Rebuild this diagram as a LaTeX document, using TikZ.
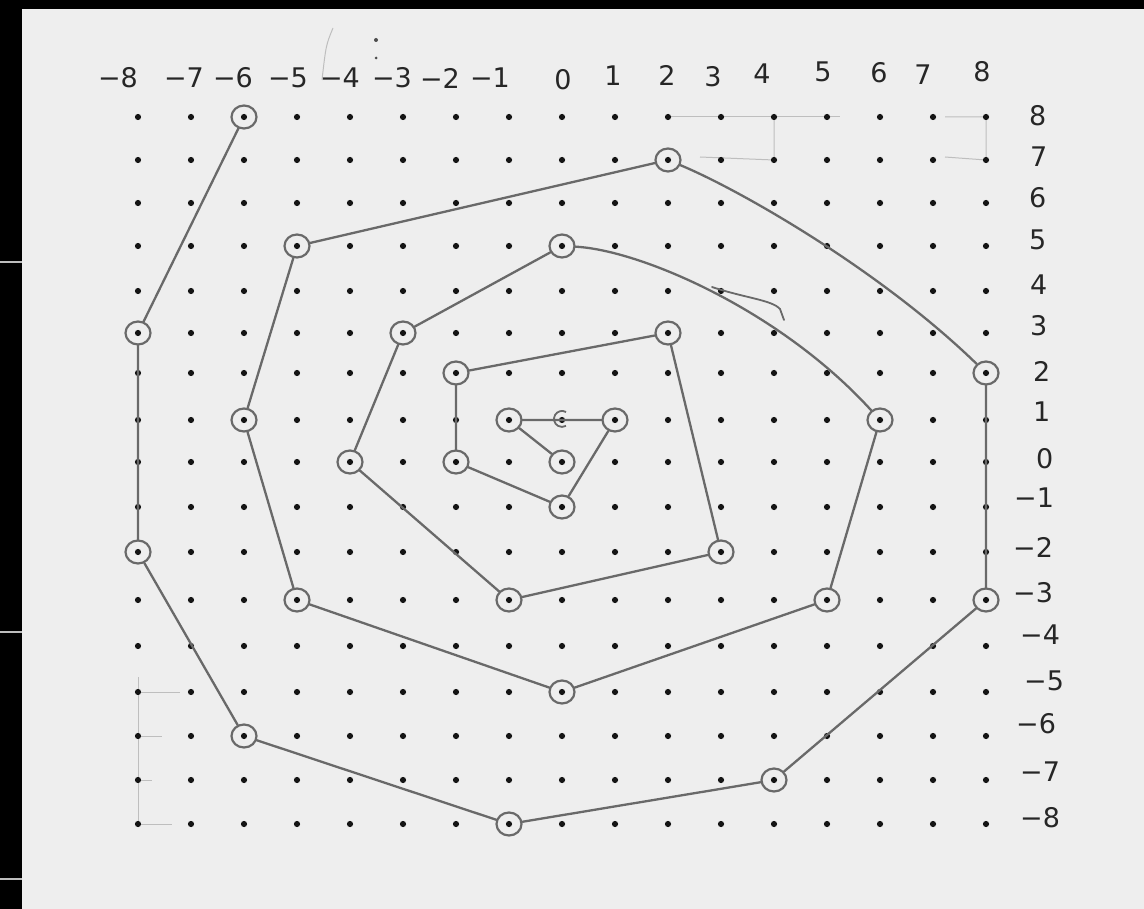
\documentclass[tikz,border=0pt]{standalone}
\usepackage{fontspec}
\setmainfont{DejaVu Sans}
\usetikzlibrary{shapes.geometric}
\definecolor{paper}{RGB}{238,238,238}
\definecolor{pencil}{RGB}{105,105,105}
\definecolor{faint}{RGB}{190,190,190}
\tikzset{
  vtx/.style={ellipse,draw=pencil,line width=2.2pt,minimum width=25pt,minimum height=23pt,inner sep=0pt},
  pline/.style={draw=pencil,line width=2.3pt,line cap=round,line join=round},
  fline/.style={draw=faint,line width=1pt},
  lab/.style={font=\fontsize{27}{29}\selectfont,text=black!85,inner sep=0pt},
  griddot/.style={fill=black!92}
}
\begin{document}
\begin{tikzpicture}[x=1pt,y=-1pt]
\useasboundingbox (0,0) rectangle (1144,909);
\fill[paper] (0,0) rectangle (1144,909);
\fill[black] (0,0) rectangle (1144,9);
\fill[black] (0,0) rectangle (22,909);
\foreach \yy in {262,632,879} \draw[faint,line width=1.6pt] (0,\yy) -- (22,\yy);
% grid coordinates
\foreach \r/\y in {8/117,7/160,6/203,5/246,4/291,3/333,2/373,1/420,0/462,-1/507,-2/552,-3/600,-4/646,-5/692,-6/736,-7/780,-8/824}
  \foreach \c in {-8,...,8}
    \coordinate (g\c x\r) at ({562+53*\c},\y);
% faint pencil marks
\draw[fline] (g2x8) -- (840,117);
\draw[fline] (945,117) -- (g8x8) -- (g8x7) -- (945,157);
\draw[fline] (g4x8) -- (g4x7) -- (700,157);
\draw[fline] (138,677) -- (g-8x-8);
\draw[fline] (g-8x-5) -- (180,692);
\draw[fline] (g-8x-6) -- (162,736);
\draw[fline] (g-8x-7) -- (152,780);
\draw[fline] (g-8x-8) -- (172,824);
\draw[fline] (333,28) .. controls (326,45) .. (322,80);
\fill[black!70] (376,40) circle (2);
\fill[black!70] (376,58) circle (1.5);
% dots
\foreach \r in {-8,...,8}
  \foreach \c in {-8,...,8}
    \fill[griddot] (g\c x\r) circle (3.1);
% spiral vertices
\foreach \n/\c/\r in {1/0/0,2/-1/1,3/1/1,4/0/-1,5/-2/0,6/-2/2,7/2/3,8/3/-2,9/-1/-3,10/-4/0,11/-3/3,12/0/5,13/6/1,14/5/-3,15/0/-5,16/-5/-3,17/-6/1,18/-5/5,19/2/7,20/8/2,21/8/-3,22/4/-7,23/-1/-8,24/-6/-6,25/-8/-2,26/-8/3,27/-6/8}
  \node[vtx] (v\n) at (g\c x\r) {};
\draw[pline] (v1) -- (v2) -- (v3) -- (v4) -- (v5) -- (v6) -- (v7) -- (v8) -- (v9)
  -- (v10) -- (v11) -- (v12) .. controls (640,250) and (780,310) .. (v13) -- (v14)
  -- (v15) -- (v16) -- (v17) -- (v18)
  -- (v19) .. controls (740,190) and (880,270) .. (v20) -- (v21) -- (v22) -- (v23)
  -- (v24) -- (v25) -- (v26) -- (v27);
% small extra pencil strokes
\draw[pencil,line width=1.8pt] (566,412) arc (-60:-300:8);
\draw[pencil,line width=1.8pt,line cap=round] (712,287) .. controls (745,298) and (772,300) .. (780,309) -- (784,320);
% top labels
\foreach \c/\x/\y/\t in {-8/118/78/−8,-7/184/78/−7,-6/233/78/−6,-5/288/78/−5,-4/340/78/−4,-3/392/78/−3,-2/440/78/−2,-1/490/78/−1,0/563/80/0,1/613/76/1,2/667/75/2,3/713/77/3,4/762/74/4,5/823/72/5,6/879/73/6,7/923/75/7,8/982/72/8}
  \node[lab] (top\c) at (\x,\y) {\t};
% right labels
\foreach \r/\x/\y/\t in {8/1029/116/8,7/1030/157/7,6/1029/198/6,5/1029/240/5,4/1030/285/4,3/1030/326/3,2/1033/371/2,1/1033/412/1,0/1036/459/0,-1/1014/498/−1,-2/1013/547/−2,-3/1013/593/−3,-4/1020/635/−4,-5/1024/681/−5,-6/1016/724/−6,-7/1020/772/−7,-8/1020/818/−8}
  \node[lab,anchor=west] (right\r) at (\x,\y) {\t};
\end{tikzpicture}
\end{document}
